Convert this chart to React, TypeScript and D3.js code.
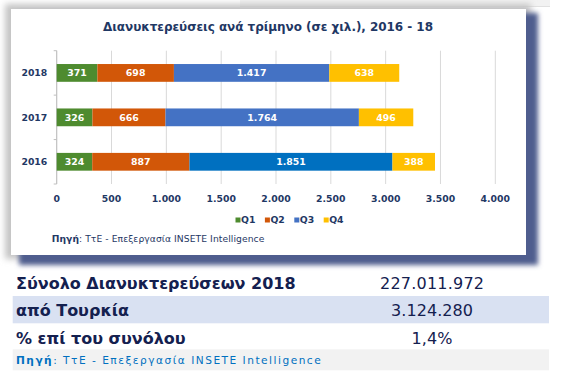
import React from "react";
import * as d3 from "d3";

const years = ["2018", "2017", "2016"];
const quarters = ["Q1", "Q2", "Q3", "Q4"];
const q1 = [371, 326, 324];
const q2 = [698, 666, 887];
const q3 = [1417, 1764, 1851];
const q4 = [638, 496, 388];
const xMax = 4000;
const quarterColors = ["#4e8b2f", "#d25708", "#4472c4", "#ffc000"];
const q3YearColors = ["#4472c4", "#4472c4", "#0070c0"];

const title = "Διανυκτερεύσεις ανά τρίμηνο (σε χιλ.), 2016 - 18";
const sourceBold = "Πηγή";
const sourceRest = ": ΤτΕ - Επεξεργασία INSETE Intelligence";

const tableLabels = ["Σύνολο Διανυκτερεύσεων 2018", "από Τουρκία", "% επί του συνόλου"];
const tableValues = ["227.011.972", "3.124.280", "1,4%"];

const locale = d3.formatLocale({ decimal: ",", thousands: ".", grouping: [3], currency: ["", "€"] });
const fmt = locale.format(",d");

const NAVY = "#1f3864";
const FONT = "'DejaVu Sans', Verdana, sans-serif";

export default function App() {
  const x = d3.scaleLinear().domain([0, xMax]).range([56.7, 495.3]);
  const y = d3.scaleBand<string>().domain(years).range([50.7, 184]).paddingInner(0.6).paddingOuter(0.3);
  const series = [q1, q2, q3, q4];
  const rows = years.map((yr, i) => ({ year: yr, q1: q1[i], q2: q2[i], q3: q3[i], q4: q4[i] }));
  const stack = d3.stack<any>().keys(["q1", "q2", "q3", "q4"])(rows);
  const ticks = x.ticks(8);
  const step = y.step();
  const boundaries = d3.range(years.length + 1).map((i) => 50.7 + i * step);

  const legendX0 = 235.5;
  const legendStep = 29.4;

  const tableRowY = [289, 316, 344];
  const valueWidths = [104, 82, 41];

  return (
    <svg width={565} height={380} style={{ position: "absolute", left: 0, top: 0, background: "#fff" }}>
      <defs>
        <filter id="blurSoft" x="-10%" y="-10%" width="120%" height="120%">
          <feGaussianBlur stdDeviation="3" />
        </filter>
        <filter id="blurDark" x="-10%" y="-10%" width="120%" height="120%">
          <feGaussianBlur stdDeviation="2.5" />
        </filter>
      </defs>
      {/* top strip */}
      <rect x={240} y={0} width={310} height={6} fill="#f2f2f2" />
      <rect x={240} y={6} width={310} height={1} fill="#e0e0e0" />
      {/* shadows */}
      <rect x={5} y={4} width={526} height={255} fill="#c4c4c4" filter="url(#blurSoft)" />
      <rect x={19} y={13} width={519} height={252} fill="#4f5d8e" filter="url(#blurDark)" />
      {/* panel */}
      <rect x={11} y={9} width={515} height={246} fill="#ffffff" />

      {/* title */}
      <text x={268} y={30.7} textAnchor="middle" fontFamily={FONT} fontWeight="bold" fontSize={12} fill={NAVY} textLength={330}>
        {title}
      </text>

      {/* grid */}
      {ticks.map((t) => (
        <line key={"g" + t} x1={x(t)} x2={x(t)} y1={50.7} y2={184} stroke="#d9d9d9" strokeWidth={1} />
      ))}
      {/* y axis */}
      <line x1={x(0)} x2={x(0)} y1={50.7} y2={184} stroke="#bfbfbf" strokeWidth={1} />
      {boundaries.map((b, i) => (
        <line key={"t" + i} x1={x(0) - 3} x2={x(0)} y1={b} y2={b} stroke="#bfbfbf" strokeWidth={1} />
      ))}

      {/* bars */}
      {stack.map((layer, si) =>
        layer.map((d, i) => {
          const yr = years[i];
          const fill = si === 2 ? q3YearColors[i] : quarterColors[si];
          const x0 = x(d[0]);
          const x1 = x(d[1]);
          return (
            <g key={si + "-" + i}>
              <rect x={x0} y={y(yr)!} width={x1 - x0} height={y.bandwidth()} fill={fill} />
              <text
                x={(x0 + x1) / 2}
                y={y(yr)! + y.bandwidth() / 2 + 3.4}
                textAnchor="middle"
                fontFamily={FONT}
                fontWeight="bold"
                fontSize={9.4}
                fill="#ffffff"
              >
                {fmt(series[si][i])}
              </text>
            </g>
          );
        })
      )}

      {/* year labels */}
      {years.map((yr) => (
        <text key={yr} x={47.3} y={y(yr)! + y.bandwidth() / 2 + 3.3} textAnchor="end" fontFamily={FONT} fontWeight="bold" fontSize={9.3} fill={NAVY}>
          {yr}
        </text>
      ))}

      {/* x tick labels */}
      {ticks.map((t) => (
        <text key={"l" + t} x={x(t)} y={201.6} textAnchor="middle" fontFamily={FONT} fontWeight="bold" fontSize={9.3} fill={NAVY}>
          {fmt(t)}
        </text>
      ))}

      {/* legend */}
      {quarters.map((q, i) => (
        <g key={q}>
          <rect x={legendX0 + i * legendStep} y={217.5} width={5} height={5} fill={i === 2 ? "#4472c4" : quarterColors[i]} />
          <text x={legendX0 + i * legendStep + 5.5} y={223.3} fontFamily={FONT} fontWeight="bold" fontSize={9.3} fill={NAVY}>
            {q}
          </text>
        </g>
      ))}

      {/* source in panel */}
      <text x={51.7} y={241.5} fontFamily={FONT} fontSize={9.2} fill={NAVY} textLength={212.6}>
        <tspan fontWeight="bold">{sourceBold}</tspan>
        <tspan>{sourceRest}</tspan>
      </text>

      {/* table */}
      <rect x={12.7} y={296} width={536.3} height={27.3} fill="#d9e1f2" />
      {tableLabels.map((lab, i) => (
        <text key={"tl" + i} x={16} y={tableRowY[i]} fontFamily={FONT} fontWeight="bold" fontSize={16} fill="#14204f">
          {lab}
        </text>
      ))}
      {tableValues.map((v, i) => (
        <text key={"tv" + i} x={432} y={tableRowY[i]} textAnchor="middle" fontFamily={FONT} fontSize={16} fill="#14204f" textLength={valueWidths[i]}>
          {v}
        </text>
      ))}
      <rect x={12.7} y={349.3} width={536.3} height={21} fill="#f2f2f2" />
      <text x={16} y={364} fontFamily={FONT} fontSize={10.6} fill="#0070c0" textLength={304.7}>
        <tspan fontWeight="bold">{sourceBold}</tspan>
        <tspan>{sourceRest}</tspan>
      </text>
    </svg>
  );
}
